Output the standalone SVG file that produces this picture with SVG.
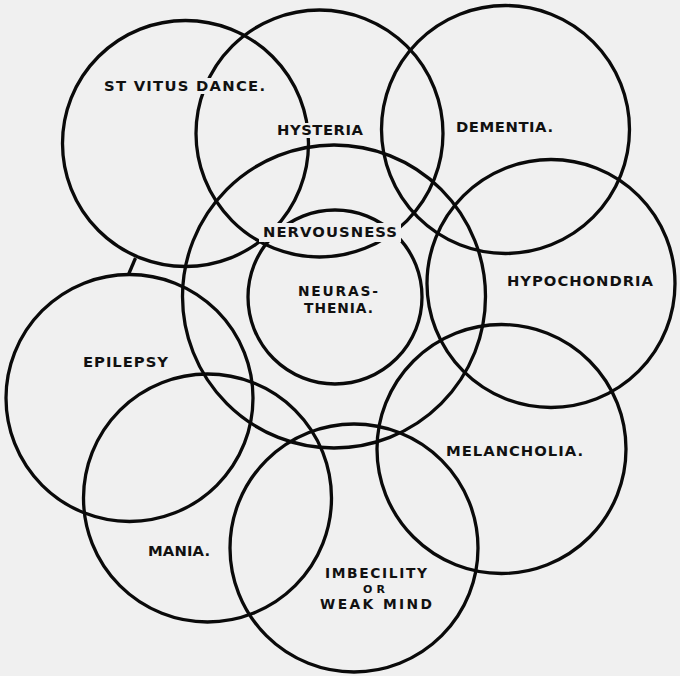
<svg xmlns="http://www.w3.org/2000/svg" width="680" height="676" viewBox="0 0 680 676">
<defs>
<style>
.c{fill:none;stroke:#0a0a0a;stroke-width:3.3}
.t{font-family:"DejaVu Sans","Liberation Sans",sans-serif;font-weight:bold;font-size:14.8px;fill:#111}
.m{font-size:13.8px}
.s{font-size:11px}
</style>
<mask id="gaps" maskUnits="userSpaceOnUse" x="0" y="0" width="680" height="676">
<rect x="0" y="0" width="680" height="676" fill="#fff"/>
<rect x="102" y="78" width="166" height="16" fill="#000"/>
<rect x="274" y="123" width="92" height="15" fill="#000"/>
<rect x="259" y="223" width="142" height="19" fill="#000"/>
</mask>
</defs>
<rect x="0" y="0" width="680" height="676" fill="#f0f0f0"/>
<g id="st-vitus-dance">
<circle class="c" cx="185.5" cy="143.5" r="123" mask="url(#gaps)"/>
<text class="t" x="104" y="91" textLength="161" lengthAdjust="spacing">ST  VITUS DANCE.</text>
</g>
<g id="hysteria">
<circle class="c" cx="319.5" cy="133.5" r="123.5" mask="url(#gaps)"/>
<text class="t" x="277" y="135" textLength="86" lengthAdjust="spacing">HYSTERIA</text>
</g>
<g id="dementia">
<circle class="c" cx="505.5" cy="129.5" r="124" mask="url(#gaps)"/>
<text class="t" x="456" y="132" textLength="97" lengthAdjust="spacing">DEMENTIA.</text>
</g>
<g id="nervousness">
<circle class="c" cx="334" cy="296.5" r="151.5" mask="url(#gaps)"/>
<text class="t" x="263" y="237" textLength="134" lengthAdjust="spacing">NERVOUSNESS</text>
</g>
<g id="neurasthenia">
<circle class="c" cx="335" cy="297" r="87" mask="url(#gaps)"/>
<text class="t m" x="298" y="296" textLength="80" lengthAdjust="spacing">NEURAS-</text>
<text class="t m" x="304" y="312.5" textLength="69" lengthAdjust="spacing">THENIA.</text>
</g>
<g id="hypochondria">
<circle class="c" cx="551" cy="283.5" r="124" mask="url(#gaps)"/>
<text class="t" x="507" y="286" textLength="146" lengthAdjust="spacing">HYPOCHONDRIA</text>
</g>
<g id="melancholia">
<circle class="c" cx="501.5" cy="449" r="124.5" mask="url(#gaps)"/>
<text class="t" x="446" y="456" textLength="137" lengthAdjust="spacing">MELANCHOLIA.</text>
</g>
<g id="epilepsy">
<circle class="c" cx="129.5" cy="398" r="123.5" mask="url(#gaps)"/>
<text class="t" x="83" y="367" textLength="85" lengthAdjust="spacing">EPILEPSY</text>
</g>
<g id="mania">
<circle class="c" cx="207.5" cy="498" r="124" mask="url(#gaps)"/>
<text class="t" x="148" y="556" textLength="62" lengthAdjust="spacing">MANIA.</text>
</g>
<g id="imbecility">
<circle class="c" cx="354" cy="548" r="124" mask="url(#gaps)"/>
<text class="t m" x="325" y="578" textLength="102" lengthAdjust="spacing">IMBECILITY</text>
<text class="t s" x="363" y="593" textLength="22" lengthAdjust="spacing">OR</text>
<text class="t m" x="320" y="608.5" textLength="112" lengthAdjust="spacing">WEAK  MIND</text>
</g>
<g id="connectors">
<path class="c" d="M135.5 258 L128.5 274.5"/>
</g>
</svg>
